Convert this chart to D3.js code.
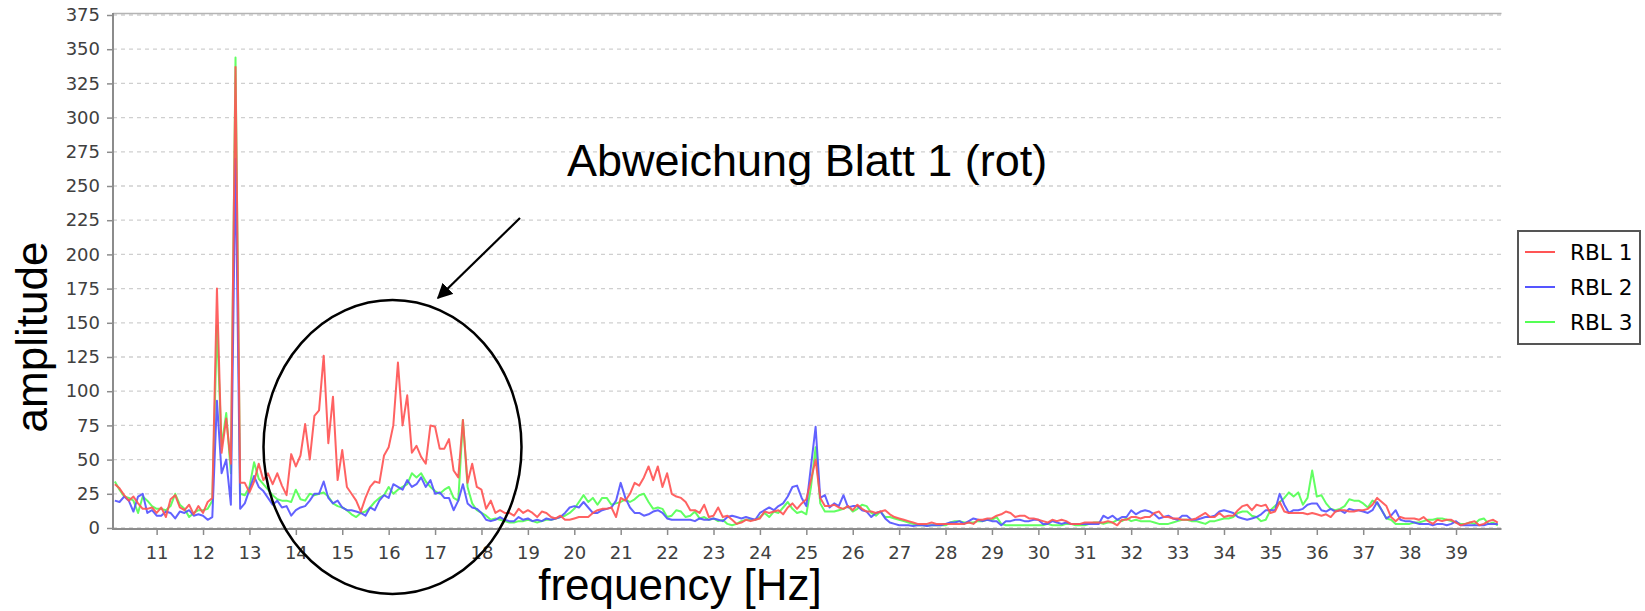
<!DOCTYPE html>
<html>
<head>
<meta charset="utf-8">
<script src="https://cdn.jsdelivr.net/npm/d3@7"></script>
<style>
  html, body { margin: 0; padding: 0; background: #ffffff; }
  svg { display: block; }
</style>
</head>
<body>
<svg id="chart" width="1645" height="611"></svg>
<script>
// Spectrum bins: 0.1 Hz spacing starting at 10.1 Hz
const START_HZ = 10.1;
const STEP_HZ = 0.1;

// Amplitude spectra of the three rotor blades (10.1 … 39.9 Hz)
const rbl1 = [
  32,29,24,20,23,18,14,14,15,11,15,8,21,24,15,13,17,10,16,11,19,22,175,55,80,47,337,33,
  33,26,34,47,35,40,32,40,31,24, 54,45,53,76,50,82,86,126,62,96, 35,57,30,25,20,12,22,30,34,33,
  53,59,75,121,75,97,55,60,52,47, 75,74,58,58,65,42,37,79,33,47, 30,28,14,20,11,13,11,11,9,14, 11,13,
  11,8,12,11,8,7,9,6,6,7, 8,8,8,11,13,14,14,15,8,22, 20,25,33,31,37,45,35,45,30,40,
  25,23,22,19,13,13,11,17,8,9, 15,8,9,6,3,4,6,5,6,7, 12,11,12,13,10,15,18,14,18,
  21,35,50,22,16,16,17,15,14,16, 13,17,14,12,12,11,12,13,10,8, 7,6,5,4,3,3,3,4,3,3,
  3,3,3,3,3,4,3,6,6,7, 7,9,10,12,11,8,9,9,7,7, 6,5,4,6,5,6,5,3,3,3, 4,4,4,4,4,5,4,2,6,6,
  8,8,7,8,8,11,12,8,8,7, 7,6,6,6,7,9,11,8,8,11, 8,9,9,13,16,17,13,17,16,17,
  11,12,19,12,11,11,11,11,10,11, 10,9,10,8,12,13,13,12,12,13, 13,14,17,22,19,16,8,5,8,7,
  7,7,6,8,5,3,6,5,6,6, 4,2,3,4,5,2,3,5,6,4
];
const rbl2 = [
  20,19,23,20,12,23,25,11,13,9,9,12,11,7,12,11,13,9,10,9,6,8,93,40,50,17,270,14,
  18,28,38,30,27,22,17,20,15,16, 9,13,15,16,20,25,25,34,22,18, 20,15,13,13,12,11,9,15,13,20,
  24,22,32,30,28,35,30,32,37,30, 35,25,26,22,22,13,20,32,18,15, 14,11,6,5,6,8,6,5,5,8, 6,7,
  5,6,5,7,6,7,8,11,15,16, 15,19,15,11,11,13,14,15,20,33, 22,15,11,11,9,10,12,13,11,7,
  6,6,6,6,6,5,7,6,6,7, 6,5,8,9,8,7,8,7,6,11, 13,15,13,16,18,23,30,31,22,
  16,45,74,22,24,15,18,16,24,15, 16,16,13,12,8,11,12,7,4,3, 2,2,2,1.5,2,2,1.5,2,2,2,
  3,4,4,5,3,5,7,6,5,6, 5,5,2,5,5,6,6,5,5,6, 6,3,3,5,4,3,4,3,3,3, 3,3,3,3,9,7,9,6,8,8,
  13,10,12,13,12,10,7,8,9,7, 6,9,9,6,6,7,8,8,9,12, 13,12,11,8,7,6,7,8,10,13,
  13,13,25,17,11,13,13,14,17,18, 18,13,12,14,12,13,11,14,13,13, 12,11,13,19,13,7,9,13,6,5,
  5,4,3,3,3,2,3,3,2,3, 5,2,2,2,2,2,2,3,3,3
];
const rbl3 = [
  34,28,23,22,20,11,23,20,16,14,14,13,16,25,17,14,8,11,13,13,14,20,148,60,84,40,344,25,
  24,30,48,36,32,28,24,21,20,20, 19,28,21,20,25,24,25,26,23,18, 16,15,13,10,8,11,12,15,19,22,
  24,30,25,28,30,32,40,37,40,34, 30,27,25,28,30,22,20,79,30,18, 13,11,9,6,7,6,5,4,4,5, 5,6,
  5,4,5,6,6,7,8,9,11,14, 19,24,19,22,17,22,22,17,18,19, 21,19,21,24,25,19,14,15,14,8,
  9,13,12,8,9,12,7,8,6,7, 5,6,3,2,3,5,6,6,6,8, 11,8,12,11,15,19,14,11,12,
  10,30,59,18,12,12,12,13,14,16, 12,14,17,16,11,9,12,8,8,7, 6,5,4,3,2,2,2,2,2,2,
  2,4,5,5,4,4,4,5,5,6, 6,8,3,2,2,2,2,2,2,2, 2,2,3,2,2,2,3,3,2,2, 2,3,4,4,3,4,4,6,5,7,
  5,6,5,5,5,4,3,3,3,4, 5,6,6,5,5,4,3,5,5,6, 7,7,8,11,12,12,9,8,5,6,
  13,16,19,22,26,23,26,17,22,42, 23,24,18,14,13,14,16,21,20,20, 18,15,20,18,13,7,6,3,3,3,
  3,4,4,5,6,6,7,7,6,5, 4,3,3,4,3,6,7,3,4,2
];

const seriesNames = ["RBL 1", "RBL 2", "RBL 3"];
const seriesColors = ["#ff5555", "#5555ff", "#55ff55"];
const seriesValues = [rbl1, rbl2, rbl3];

const xTicks = d3.range(11, 40);          // 11 … 39 Hz
const yTicks = d3.range(0, 376, 25);      // 0 … 375

const xTitle = "frequency [Hz]";
const yTitle = "amplitude";
const noteText = "Abweichung Blatt 1 (rot)";

// ---- layout ----
const plot = { left: 113, right: 1501.5, top: 14, bottom: 528 };

const x = d3.scaleLinear().domain([10.06, 39.98]).range([plot.left, plot.right]);
const y = d3.scaleLinear().domain([0, 375]).range([plot.bottom, 15]);

const svg = d3.select("#chart");
svg.append("rect").attr("width", 1645).attr("height", 611).attr("fill", "#ffffff");

// horizontal dashed grid
svg.append("g").selectAll("line").data(yTicks).join("line")
  .attr("x1", plot.left).attr("x2", plot.right)
  .attr("y1", d => y(d)).attr("y2", d => y(d))
  .attr("stroke", "#cfcfcf").attr("stroke-width", 1.3)
  .attr("stroke-dasharray", "4,4");

// plot outline (top)
svg.append("line")
  .attr("x1", plot.left).attr("x2", plot.right)
  .attr("y1", plot.top - 0.5).attr("y2", plot.top - 0.5)
  .attr("stroke", "#b4b4b4").attr("stroke-width", 1.6);

// series, last one drawn first so RBL 1 sits on top
const line = d3.line()
  .x((d, i) => x(START_HZ + i * STEP_HZ))
  .y(d => y(d));

const linesG = svg.append("g");
[2, 1, 0].forEach(k => {
  linesG.append("path")
    .attr("d", line(seriesValues[k]))
    .attr("fill", "none")
    .attr("stroke", seriesColors[k])
    .attr("stroke-width", 2)
    .attr("stroke-linejoin", "round")
    .attr("opacity", 0.92);
});

// y axis
const yAxis = d3.axisLeft(y).tickValues(yTicks).tickSize(6).tickPadding(7);
const gy = svg.append("g").attr("transform", `translate(${plot.left},0)`).call(yAxis);
gy.select(".domain").remove();
gy.selectAll(".tick line").attr("stroke", "#8c8c8c").attr("stroke-width", 1.5);
gy.selectAll(".tick text")
  .attr("font-family", "DejaVu Sans, sans-serif").attr("font-size", 18).attr("fill", "#404040");
svg.append("line")
  .attr("x1", plot.left).attr("x2", plot.left)
  .attr("y1", plot.top - 1).attr("y2", plot.bottom + 2)
  .attr("stroke", "#8c8c8c").attr("stroke-width", 2);

// x axis
const xAxis = d3.axisBottom(x).tickValues(xTicks).tickSize(6).tickPadding(11).tickFormat(d3.format("d"));
const gx = svg.append("g").attr("transform", `translate(0,${plot.bottom + 1})`).call(xAxis);
gx.select(".domain").remove();
gx.selectAll(".tick line").attr("stroke", "#8c8c8c").attr("stroke-width", 1.5);
gx.selectAll(".tick text")
  .attr("font-family", "DejaVu Sans, sans-serif").attr("font-size", 18).attr("fill", "#404040");
svg.append("line")
  .attr("x1", plot.left - 1).attr("x2", plot.right)
  .attr("y1", plot.bottom + 1).attr("y2", plot.bottom + 1)
  .attr("stroke", "#8c8c8c").attr("stroke-width", 2);

// axis titles
svg.append("text")
  .attr("transform", "translate(47,337) rotate(-90)")
  .attr("text-anchor", "middle")
  .attr("font-family", "Liberation Sans, Arial, sans-serif")
  .attr("font-size", 44).attr("fill", "#000")
  .text(yTitle);

svg.append("text")
  .attr("x", 680).attr("y", 600)
  .attr("text-anchor", "middle")
  .attr("font-family", "Liberation Sans, Arial, sans-serif")
  .attr("font-size", 44).attr("fill", "#000")
  .text(xTitle);

// legend
const legend = svg.append("g");
legend.append("rect")
  .attr("x", 1518).attr("y", 231).attr("width", 122).attr("height", 113)
  .attr("fill", "#ffffff").attr("stroke", "#555555").attr("stroke-width", 2);
seriesNames.forEach((name, i) => {
  const ly = 252 + i * 35;
  legend.append("line")
    .attr("x1", 1525).attr("x2", 1555).attr("y1", ly).attr("y2", ly)
    .attr("stroke", seriesColors[i]).attr("stroke-width", 2);
  legend.append("text")
    .attr("x", 1570).attr("y", ly).attr("dy", "0.36em")
    .attr("font-family", "DejaVu Sans, sans-serif").attr("font-size", 21.6).attr("fill", "#000")
    .text(name);
});

// annotation: note, arrow and ellipse around 13.5–18.5 Hz
svg.append("defs").append("marker")
  .attr("id", "arrowhead")
  .attr("viewBox", "0 0 10 10")
  .attr("refX", 9).attr("refY", 5)
  .attr("markerWidth", 7).attr("markerHeight", 7)
  .attr("markerUnits", "strokeWidth")
  .attr("orient", "auto")
  .append("path").attr("d", "M0,0 L10,5 L0,10 z").attr("fill", "#000");

svg.append("text")
  .attr("x", 567).attr("y", 176)
  .attr("font-family", "Liberation Sans, Arial, sans-serif")
  .attr("font-size", 45).attr("fill", "#000")
  .text(noteText);

svg.append("line")
  .attr("x1", 520).attr("y1", 218).attr("x2", 438).attr("y2", 298)
  .attr("stroke", "#000").attr("stroke-width", 2.2)
  .attr("marker-end", "url(#arrowhead)");

svg.append("ellipse")
  .attr("cx", 392.5).attr("cy", 447).attr("rx", 129).attr("ry", 147)
  .attr("fill", "none").attr("stroke", "#000").attr("stroke-width", 2.5);
</script>
</body>
</html>
